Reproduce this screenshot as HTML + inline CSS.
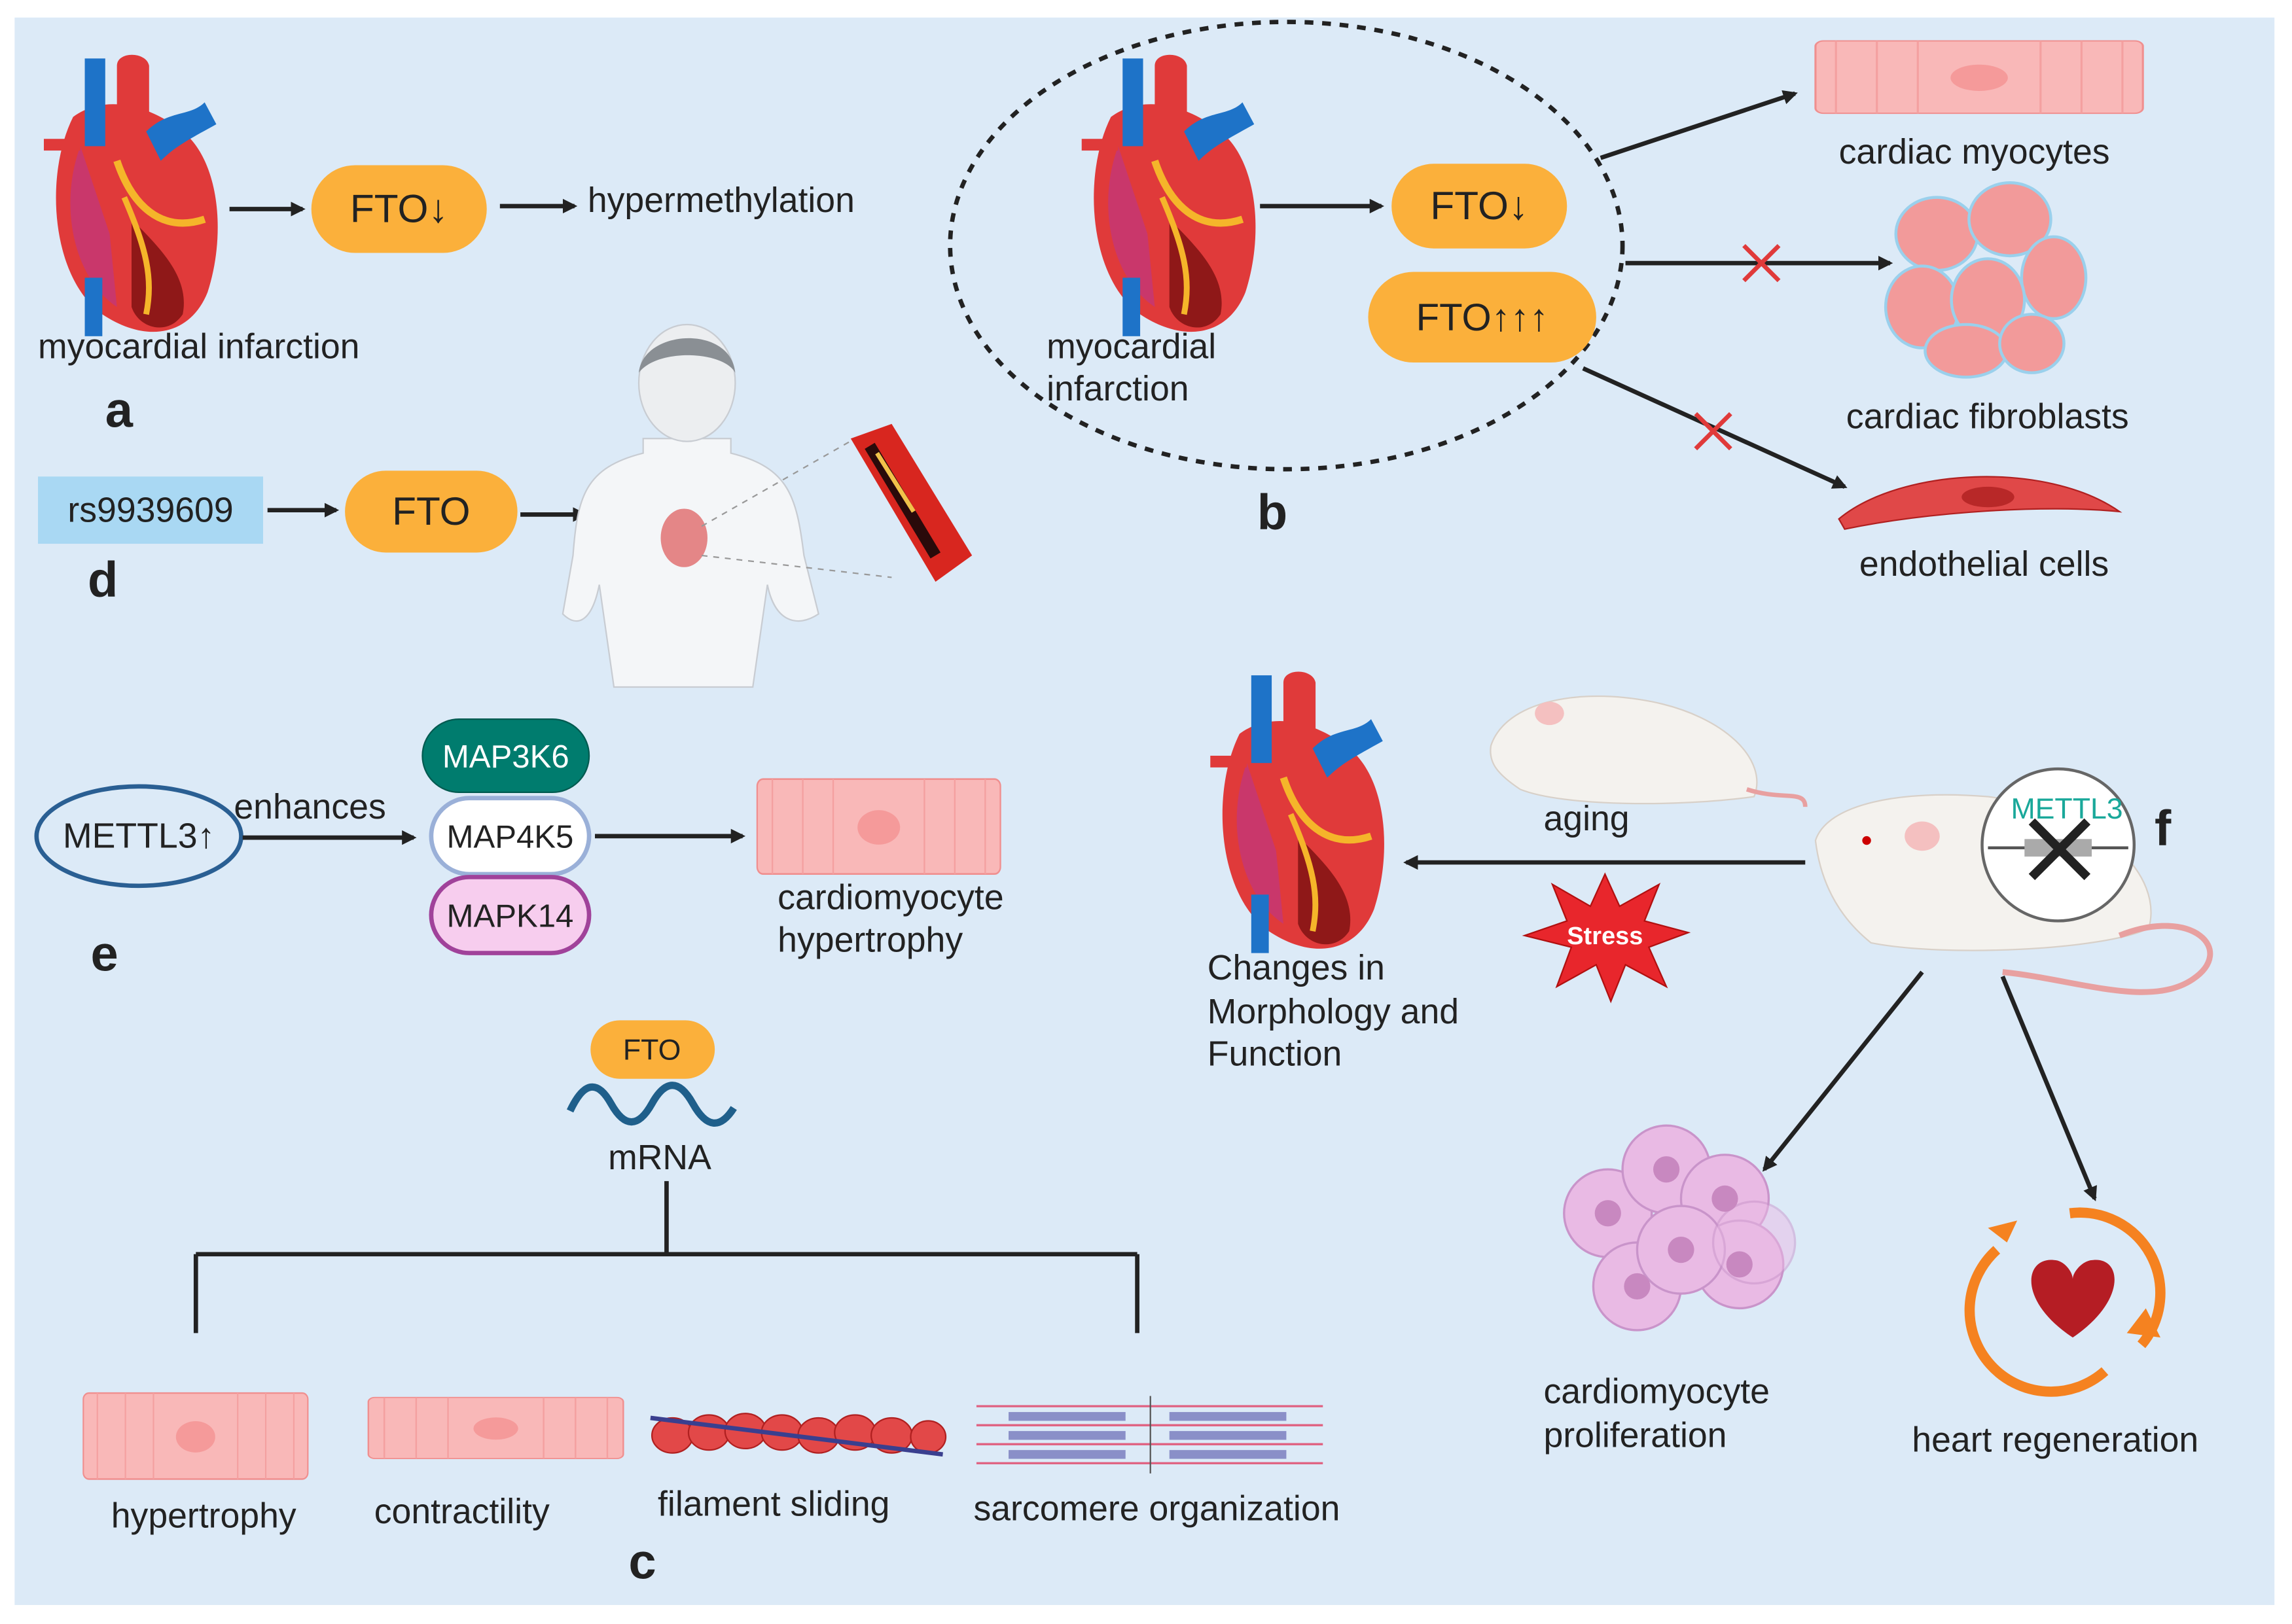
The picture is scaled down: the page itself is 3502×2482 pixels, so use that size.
<!DOCTYPE html>
<html><head><meta charset="utf-8">
<style>html,body{margin:0;padding:0;background:#fff}svg{display:block}text{font-family:"Liberation Sans",sans-serif;fill:#222}</style>
</head><body>
<svg width="3502" height="2482" viewBox="0 0 1568 1111" preserveAspectRatio="none" xmlns="http://www.w3.org/2000/svg">
<defs>
<marker id="ah" markerWidth="10" markerHeight="10" refX="8" refY="5" orient="auto" markerUnits="userSpaceOnUse"><path d="M0,0 L10,5 L0,10 z" fill="#222"/></marker>
<g id="heart">
<path d="M20,40 C0,80 5,150 40,175 C70,195 100,190 112,160 C125,120 120,70 95,50 C70,30 40,25 20,40z" fill="#e03a3a"/>
<path d="M25,60 C10,100 20,150 50,170 L45,120z" fill="#c9376b"/>
<path d="M60,110 C80,130 100,150 95,175 C85,190 65,185 60,170z" fill="#7a1010" opacity=".8"/>
<path d="M50,70 C60,100 80,120 110,110" stroke="#f5b52a" stroke-width="5" fill="none"/>
<path d="M55,95 C70,130 75,150 70,175" stroke="#f5b52a" stroke-width="4" fill="none"/>
<rect x="28" y="0" width="14" height="60" fill="#1e73c8"/>
<path d="M50,5 C50,-5 70,-5 72,5 L72,45 L50,45z" fill="#e03a3a"/>
<path d="M70,50 C85,35 100,40 110,30 L118,45 C100,55 90,60 80,70z" fill="#1e73c8"/>
<rect x="28" y="150" width="12" height="40" fill="#1e73c8"/>
<rect x="0" y="55" width="25" height="8" fill="#e03a3a"/>
</g>
<g id="cell">
<rect x="0" y="0" width="160" height="55" rx="4" fill="#f9b8b8" stroke="#f08f8f"/>
<g stroke="#f4a0a0" stroke-width="1"><line x1="10" y1="0" x2="10" y2="55"/><line x1="30" y1="0" x2="30" y2="55"/><line x1="50" y1="0" x2="50" y2="55"/><line x1="110" y1="0" x2="110" y2="55"/><line x1="130" y1="0" x2="130" y2="55"/><line x1="150" y1="0" x2="150" y2="55"/></g>
<ellipse cx="80" cy="28" rx="14" ry="10" fill="#f59a9a"/>
</g>
</defs>
<rect width="1568" height="1111" fill="#fff"/>
<rect x="10" y="12" width="1546" height="1086" fill="#dceaf7"/>

<!-- a -->
<use href="#heart" x="30" y="40"/>
<line x1="157" y1="143" x2="207" y2="143" stroke="#222" stroke-width="3" marker-end="url(#ah)"/>
<rect x="213" y="113" width="120" height="60" rx="30" fill="#fbb03b"/>
<text x="273" y="152" font-size="27" text-anchor="middle">FTO↓</text>
<line x1="342" y1="141" x2="393" y2="141" stroke="#222" stroke-width="3" marker-end="url(#ah)"/>
<text x="402" y="145" font-size="24">hypermethylation</text>
<text x="26" y="245" font-size="24">myocardial infarction</text>
<text x="72" y="292" font-size="34" font-weight="bold">a</text>

<!-- b -->
<ellipse cx="880" cy="168" rx="230" ry="153" fill="none" stroke="#222" stroke-width="3" stroke-dasharray="6,6"/>
<use href="#heart" x="740" y="40"/>
<line x1="862" y1="141" x2="945" y2="141" stroke="#222" stroke-width="3" marker-end="url(#ah)"/>
<rect x="952" y="112" width="120" height="58" rx="29" fill="#fbb03b"/>
<text x="1012" y="150" font-size="27" text-anchor="middle">FTO↓</text>
<rect x="936" y="186" width="156" height="62" rx="31" fill="#fbb03b"/>
<text x="1014" y="226" font-size="26" text-anchor="middle">FTO↑↑↑</text>
<text x="716" y="245" font-size="24">myocardial</text>
<text x="716" y="274" font-size="24">infarction</text>
<text x="860" y="362" font-size="34" font-weight="bold">b</text>
<line x1="1095" y1="108" x2="1228" y2="64" stroke="#222" stroke-width="3" marker-end="url(#ah)"/>
<line x1="1112" y1="180" x2="1293" y2="180" stroke="#222" stroke-width="3" marker-end="url(#ah)"/>
<path d="M1193,168 L1217,192 M1217,168 L1193,192" stroke="#e03a3a" stroke-width="3"/>
<line x1="1083" y1="252" x2="1262" y2="333" stroke="#222" stroke-width="3" marker-end="url(#ah)"/>
<path d="M1160,283 L1184,307 M1184,283 L1160,307" stroke="#e03a3a" stroke-width="3"/>
<g transform="translate(1242,28) scale(1.4,0.9)"><use href="#cell"/></g>
<text x="1258" y="112" font-size="24">cardiac myocytes</text>
<g fill="#f29a9a" stroke="#9ad0ec" stroke-width="2">
<ellipse cx="1325" cy="160" rx="28" ry="25"/><ellipse cx="1375" cy="150" rx="28" ry="25"/><ellipse cx="1405" cy="190" rx="22" ry="28"/>
<ellipse cx="1315" cy="210" rx="25" ry="28"/><ellipse cx="1360" cy="205" rx="25" ry="28"/><ellipse cx="1345" cy="240" rx="28" ry="18"/><ellipse cx="1390" cy="235" rx="22" ry="20"/></g>
<text x="1263" y="293" font-size="24">cardiac fibroblasts</text>
<path d="M1258,355 C1300,320 1400,315 1450,350 C1400,345 1320,350 1262,362z" fill="#e04848" stroke="#b02020"/>
<ellipse cx="1360" cy="340" rx="18" ry="7" fill="#b82828"/>
<text x="1272" y="394" font-size="24">endothelial cells</text>

<!-- d -->
<rect x="26" y="326" width="154" height="46" fill="#a9d8f3"/>
<text x="103" y="357" font-size="24" text-anchor="middle">rs9939609</text>
<line x1="183" y1="349" x2="230" y2="349" stroke="#222" stroke-width="3" marker-end="url(#ah)"/>
<rect x="236" y="322" width="118" height="56" rx="28" fill="#fbb03b"/>
<text x="295" y="359" font-size="27" text-anchor="middle">FTO</text>
<line x1="356" y1="352" x2="400" y2="352" stroke="#222" stroke-width="3" marker-end="url(#ah)"/>
<text x="60" y="408" font-size="34" font-weight="bold">d</text>
<path d="M440,300 L440,310 C400,320 395,340 392,380 L385,420 C395,430 405,425 410,400 L420,470 L515,470 L525,400 C530,425 545,430 560,420 L550,380 C545,340 540,320 500,310 L500,300z" fill="#f4f6f8" stroke="#c8ccd2"/>
<ellipse cx="470" cy="262" rx="33" ry="40" fill="#eceef0" stroke="#c8ccd2"/>
<path d="M437,255 C440,225 500,222 503,255 C495,240 450,238 437,255z" fill="#8a8f94"/>
<ellipse cx="468" cy="368" rx="16" ry="20" fill="#e06a6a" opacity=".8"/>
<line x1="480" y1="360" x2="585" y2="300" stroke="#999" stroke-dasharray="4,4"/>
<line x1="480" y1="380" x2="610" y2="395" stroke="#999" stroke-dasharray="4,4"/>
<path d="M582,300 L610,290 L665,380 L640,398z" fill="#d8261f"/>
<path d="M595,305 L640,380" stroke="#2a0a0a" stroke-width="8"/>
<path d="M600,310 L625,350" stroke="#f2c24a" stroke-width="3"/>

<!-- e -->
<ellipse cx="95" cy="572" rx="70" ry="34" fill="none" stroke="#2a5f93" stroke-width="3"/>
<text x="95" y="580" font-size="24" text-anchor="middle">METTL3↑</text>
<text x="160" y="560" font-size="24">enhances</text>
<line x1="166" y1="573" x2="283" y2="573" stroke="#222" stroke-width="3" marker-end="url(#ah)"/>
<rect x="289" y="492" width="114" height="50" rx="25" fill="#007c6e" stroke="#005a50"/>
<text x="346" y="525" font-size="22" text-anchor="middle" style="fill:#fff">MAP3K6</text>
<rect x="295" y="546" width="108" height="52" rx="26" fill="#fff" stroke="#9ab0d8" stroke-width="3"/>
<text x="349" y="580" font-size="22" text-anchor="middle">MAP4K5</text>
<rect x="295" y="600" width="108" height="52" rx="26" fill="#f7cdee" stroke="#a0429a" stroke-width="3"/>
<text x="349" y="634" font-size="22" text-anchor="middle">MAPK14</text>
<line x1="407" y1="572" x2="508" y2="572" stroke="#222" stroke-width="3" marker-end="url(#ah)"/>
<g transform="translate(518,533) scale(1.04,1.18)"><use href="#cell"/></g>
<text x="532" y="622" font-size="24">cardiomyocyte</text>
<text x="532" y="651" font-size="24">hypertrophy</text>
<text x="62" y="664" font-size="34" font-weight="bold">e</text>

<!-- c -->
<rect x="404" y="698" width="85" height="40" rx="20" fill="#fbb03b"/>
<text x="446" y="725" font-size="20" text-anchor="middle">FTO</text>
<path d="M390,760 Q404,730 418,755 T446,755 T474,755 T502,758" fill="none" stroke="#1f5f8b" stroke-width="5"/>
<text x="416" y="800" font-size="24">mRNA</text>
<path d="M456,808 L456,858 M134,858 L778,858 M134,858 L134,912 M778,858 L778,912" stroke="#222" stroke-width="3" fill="none"/>
<g transform="translate(57,953) scale(0.96,1.07)"><use href="#cell"/></g>
<g transform="translate(252,956) scale(1.09,0.76)"><use href="#cell"/></g>
<g fill="#e24848" stroke="#b02020">
<ellipse cx="460" cy="982" rx="14" ry="12"/><ellipse cx="485" cy="980" rx="14" ry="12"/><ellipse cx="510" cy="979" rx="14" ry="12"/><ellipse cx="535" cy="980" rx="14" ry="12"/><ellipse cx="560" cy="982" rx="14" ry="12"/><ellipse cx="585" cy="980" rx="14" ry="12"/><ellipse cx="610" cy="982" rx="14" ry="12"/><ellipse cx="635" cy="983" rx="12" ry="11"/></g>
<line x1="445" y1="970" x2="645" y2="995" stroke="#3a3f8f" stroke-width="3"/>
<g stroke="#e06080" stroke-width="1.5"><line x1="668" y1="962" x2="905" y2="962"/><line x1="668" y1="975" x2="905" y2="975"/><line x1="668" y1="988" x2="905" y2="988"/><line x1="668" y1="1001" x2="905" y2="1001"/></g>
<g fill="#8a8fc8"><rect x="690" y="966" width="80" height="6"/><rect x="800" y="966" width="80" height="6"/><rect x="690" y="979" width="80" height="6"/><rect x="800" y="979" width="80" height="6"/><rect x="690" y="992" width="80" height="6"/><rect x="800" y="992" width="80" height="6"/></g>
<line x1="787" y1="955" x2="787" y2="1008" stroke="#555"/>
<text x="76" y="1045" font-size="24">hypertrophy</text>
<text x="256" y="1042" font-size="24">contractility</text>
<text x="450" y="1037" font-size="24">filament sliding</text>
<text x="666" y="1040" font-size="24">sarcomere organization</text>
<text x="430" y="1080" font-size="34" font-weight="bold">c</text>

<!-- f -->
<use href="#heart" x="828" y="462" transform="translate(0,0)"/>
<path d="M1020,510 C1030,480 1080,470 1130,480 C1180,490 1210,520 1200,545 C1150,552 1070,552 1040,540 C1025,530 1018,522 1020,510z" fill="#f4f2ee" stroke="#d8d0c8"/>
<path d="M1195,540 C1220,548 1235,540 1235,552" stroke="#e8a0a0" stroke-width="3" fill="none"/>
<ellipse cx="1060" cy="488" rx="10" ry="8" fill="#f4c0c0"/>
<text x="1056" y="568" font-size="24">aging</text>
<line x1="1235" y1="590" x2="962" y2="590" stroke="#222" stroke-width="3" marker-end="url(#ah)"/>
<polygon points="1098,598 1108,620 1135,605 1125,630 1155,638 1128,648 1140,675 1112,660 1102,685 1092,660 1065,675 1075,648 1043,640 1072,630 1062,605 1088,620" fill="#e8262c" stroke="#b01010"/>
<text x="1098" y="646" font-size="17" font-weight="bold" text-anchor="middle" style="fill:#fff">Stress</text>
<text x="826" y="670" font-size="24">Changes in</text>
<text x="826" y="700" font-size="24">Morphology and</text>
<text x="826" y="729" font-size="24">Function</text>
<path d="M1242,575 C1250,550 1300,540 1360,545 C1440,555 1480,600 1470,635 C1440,650 1330,655 1280,645 C1255,625 1245,600 1242,575z" fill="#f4f2ee" stroke="#d8d0c8"/>
<path d="M1450,640 C1500,620 1530,650 1500,670 C1470,690 1420,670 1370,665" stroke="#e8a0a0" stroke-width="4" fill="none"/>
<ellipse cx="1315" cy="572" rx="12" ry="10" fill="#f4c0c0"/>
<circle cx="1277" cy="575" r="3" fill="#c00"/>
<circle cx="1408" cy="578" r="52" fill="#fff" stroke="#666" stroke-width="2"/>
<line x1="1360" y1="580" x2="1456" y2="580" stroke="#555" stroke-width="2"/>
<rect x="1385" y="574" width="46" height="12" fill="#aaa"/>
<path d="M1390,562 L1428,600 M1428,562 L1390,600" stroke="#222" stroke-width="6"/>
<text x="1414" y="560" font-size="20" text-anchor="middle" style="fill:#1aa89a">METTL3</text>
<text x="1474" y="578" font-size="34" font-weight="bold">f</text>
<line x1="1315" y1="665" x2="1207" y2="800" stroke="#222" stroke-width="3" marker-end="url(#ah)"/>
<line x1="1370" y1="668" x2="1433" y2="820" stroke="#222" stroke-width="3" marker-end="url(#ah)"/>
<g fill="#eab8e4" stroke="#c890c8" stroke-width="1.5" opacity=".95">
<circle cx="1100" cy="830" r="30"/><circle cx="1140" cy="800" r="30"/><circle cx="1180" cy="820" r="30"/><circle cx="1190" cy="865" r="30"/><circle cx="1120" cy="880" r="30"/><circle cx="1150" cy="855" r="30"/><circle cx="1200" cy="850" r="28" opacity=".5"/></g>
<g fill="#c888c0"><circle cx="1100" cy="830" r="9"/><circle cx="1140" cy="800" r="9"/><circle cx="1180" cy="820" r="9"/><circle cx="1190" cy="865" r="9"/><circle cx="1120" cy="880" r="9"/><circle cx="1150" cy="855" r="9"/></g>
<text x="1056" y="960" font-size="24">cardiomyocyte</text>
<text x="1056" y="990" font-size="24">proliferation</text>
<path d="M1416,830 A55,55 0 0 1 1465,920" fill="none" stroke="#f58220" stroke-width="7"/>
<path d="M1440,938 A55,55 0 0 1 1366,855" fill="none" stroke="#f58220" stroke-width="7"/>
<polygon points="1455,912 1478,915 1468,895" fill="#f58220"/>
<polygon points="1373,850 1360,840 1380,835" fill="#f58220"/>
<path d="M1418,915 C1380,890 1385,860 1405,862 C1412,862 1418,870 1418,875 C1418,870 1425,862 1432,862 C1452,860 1455,890 1418,915z" fill="#b51d24"/>
<text x="1308" y="993" font-size="24">heart regeneration</text>
</svg>
</body></html>
